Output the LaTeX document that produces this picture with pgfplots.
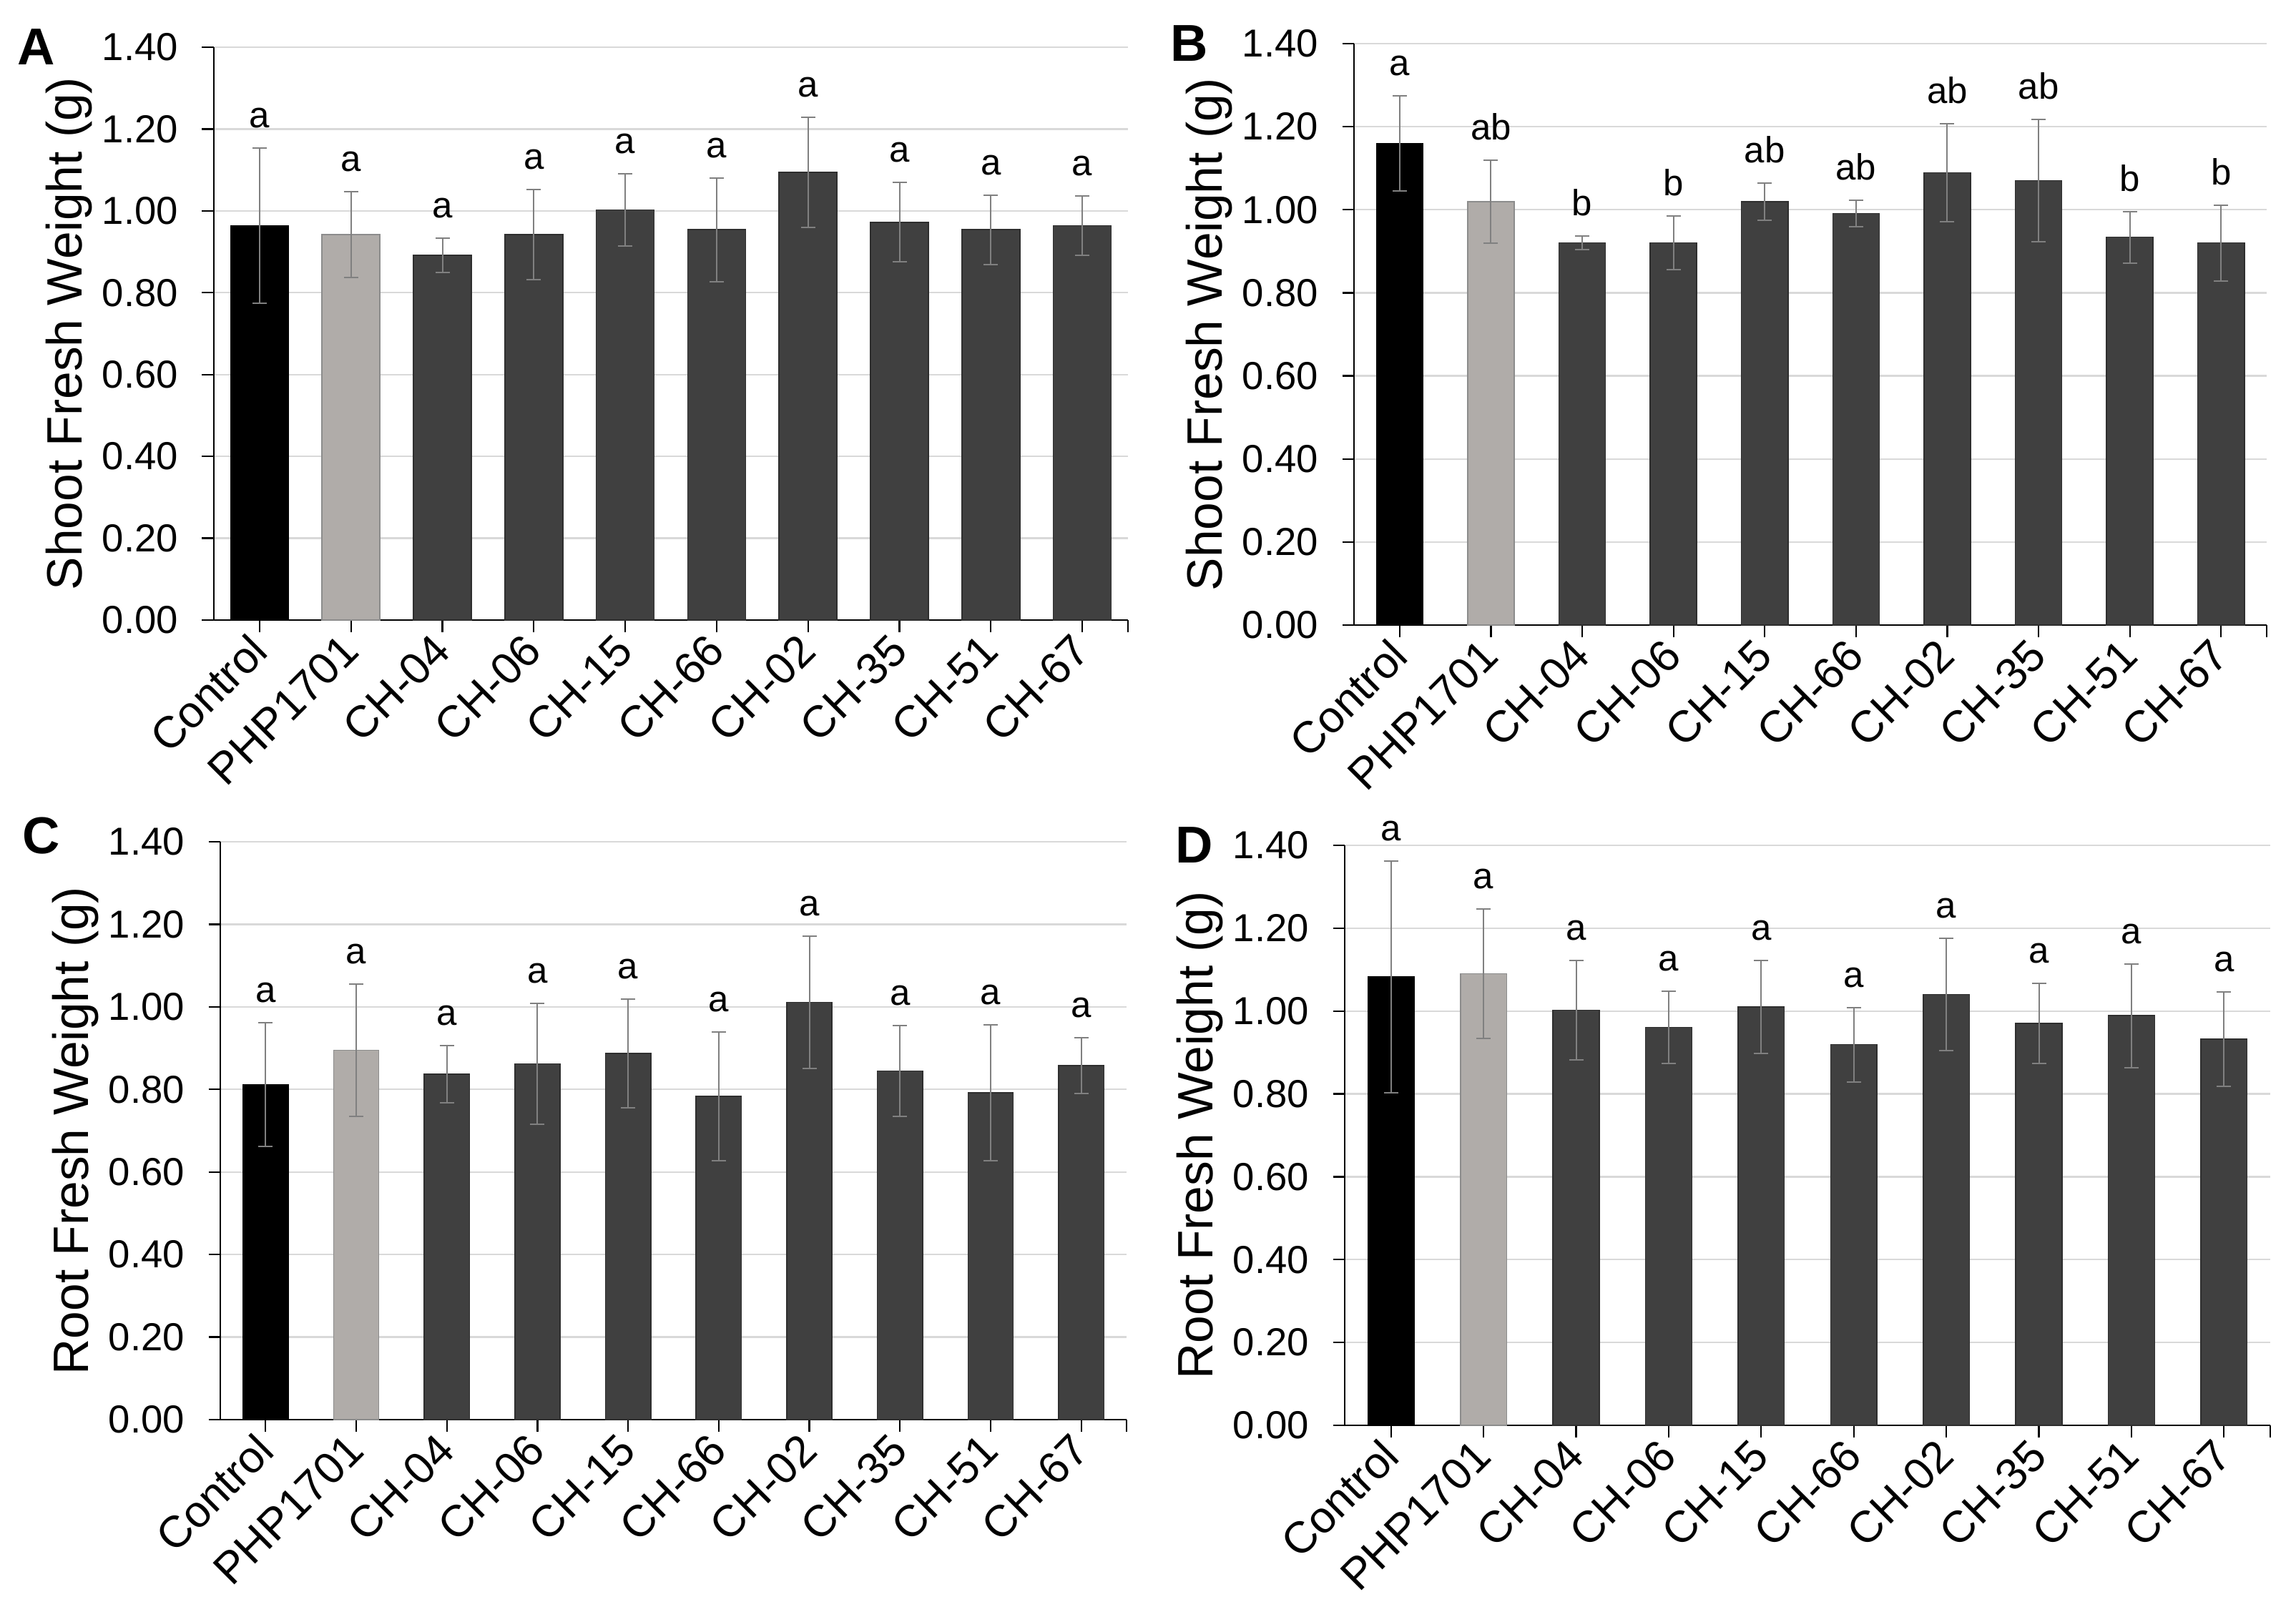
\documentclass[border=0pt]{standalone}
\usepackage{fontspec}
\setmainfont{Liberation Sans}
\usepackage{pgfplots}
\usepackage{pgfplotstable}
\pgfplotsset{compat=1.18}

\definecolor{php}{HTML}{B0ACA9}
\definecolor{phpedge}{HTML}{8C8C8C}
\definecolor{dark}{HTML}{404040}
\definecolor{darkedge}{HTML}{2E2E2E}
\definecolor{errc}{HTML}{808080}
\definecolor{gridc}{HTML}{D9D9D9}

% x y err lab  (mean, error, letter)
\pgfplotstableread{
x y err lab
0 0.964 0.190 a
1 0.942 0.105 a
2 0.891 0.042 a
3 0.942 0.110 a
4 1.002 0.088 a
5 0.954 0.127 a
6 1.094 0.135 a
7 0.972 0.097 a
8 0.954 0.085 a
9 0.964 0.072 a
}\dataA
\pgfplotstableread{
x y err lab
0 1.160 0.115 a
1 1.019 0.100 ab
2 0.920 0.016 b
3 0.920 0.065 b
4 1.019 0.045 ab
5 0.991 0.032 ab
6 1.089 0.118 ab
7 1.070 0.147 ab
8 0.934 0.062 b
9 0.920 0.091 b
}\dataB
\pgfplotstableread{
x y err lab
0 0.812 0.150 a
1 0.895 0.160 a
2 0.837 0.070 a
3 0.862 0.147 a
4 0.887 0.131 a
5 0.783 0.156 a
6 1.011 0.160 a
7 0.845 0.110 a
8 0.792 0.164 a
9 0.858 0.068 a
}\dataC
\pgfplotstableread{
x y err lab
0 1.082 0.280 a
1 1.090 0.156 a
2 1.002 0.120 a
3 0.961 0.087 a
4 1.010 0.112 a
5 0.919 0.090 a
6 1.040 0.135 a
7 0.970 0.097 a
8 0.989 0.125 a
9 0.932 0.114 a
}\dataD

\pgfplotsset{
  panel/.style={
    scale only axis,
    anchor=south west,
    clip=false,
    xmin=-0.5, xmax=9.5,
    ymin=0, ymax=1.4,
    ytick={0,0.2,0.4,0.6,0.8,1.0,1.2,1.4},
    xtick={0,1,2,3,4,5,6,7,8,9},
    xticklabels={Control,PHP1701,CH-04,CH-06,CH-15,CH-66,CH-02,CH-35,CH-51,CH-67},
    extra x ticks={9.5}, extra x tick labels={},
    axis x line*=bottom, axis y line*=left,
    axis line style={-, black, line width=0.45pt},
    tick style={black, line width=0.45pt},
    tick align=outside,
    major tick length=3.3pt,
    ymajorgrids,
    grid style={gridc, line width=0.45pt},
    scaled y ticks=false,
    yticklabel style={font=\fontsize{10.9}{12}\selectfont, xshift=-3.2pt,
      /pgf/number format/fixed, /pgf/number format/fixed zerofill,
      /pgf/number format/precision=2, /pgf/number format/assume math mode=true},
    xticklabel style={rotate=45, anchor=east, xshift=1.2pt, yshift=-2pt,
      font=\fontsize{12.4}{14}\selectfont},
    ylabel style={at={([xshift=-40.5pt]axis description cs:0,0.5)}, anchor=center,
      font=\fontsize{13.9}{15}\selectfont},
  },
  errs/.style={error bars/.cd, y dir=both, y explicit,
    error bar style={errc, line width=0.4pt},
    error mark options={errc, rotate=90, mark size=2pt, line width=0.4pt}},
}

\newcommand{\bars}[2]{%
  \addplot[ybar, bar shift=0pt, bar width=#2, fill=black, draw=black, line width=0.3pt,
    restrict x to domain=0:0, errs] table[x=x, y=y, y error=err]{#1};
  \addplot[ybar, bar shift=0pt, bar width=#2, fill=php, draw=phpedge, line width=0.3pt,
    restrict x to domain=1:1, errs] table[x=x, y=y, y error=err]{#1};
  \addplot[ybar, bar shift=0pt, bar width=#2, fill=dark, draw=darkedge, line width=0.3pt,
    restrict x to domain=2:9, errs] table[x=x, y=y, y error=err]{#1};
  \addplot[draw=none, mark=none, nodes near coords, point meta=explicit symbolic,
    every node near coord/.append style={inner sep=0pt, yshift=5.4pt,
      font=\fontsize{10.2}{11}\selectfont}]
    table[x=x, y expr=\thisrow{y}+\thisrow{err}, meta=lab]{#1};
}

\begin{document}
\begin{tikzpicture}
\path[use as bounding box] (0,0) rectangle (642pt,450.6pt);

\begin{axis}[panel, at={(59.8pt,277.2pt)}, width=255.6pt, height=160.2pt,
  ylabel={Shoot Fresh Weight (g)}]
  \bars{\dataA}{0.634}
  \node[font=\bfseries\fontsize{14.5}{16}\selectfont] at ([xshift=-49.6pt]axis description cs:0,1) {A};
\end{axis}

\begin{axis}[panel, at={(378.6pt,275.8pt)}, width=255.2pt, height=162.6pt,
  ylabel={Shoot Fresh Weight (g)}]
  \bars{\dataB}{0.51}
  \node[font=\bfseries\fontsize{14.5}{16}\selectfont] at ([xshift=-46pt]axis description cs:0,1) {B};
\end{axis}

\begin{axis}[panel, at={(61.6pt,53.6pt)}, width=253.4pt, height=161.6pt,
  ylabel={Root Fresh Weight (g)}]
  \bars{\dataC}{0.5}
  \node[font=\bfseries\fontsize{14.5}{16}\selectfont] at ([xshift=-50pt,yshift=1.6pt]axis description cs:0,1) {C};
\end{axis}

\begin{axis}[panel, at={(376pt,52pt)}, width=258.8pt, height=162.2pt,
  ylabel={Root Fresh Weight (g)}]
  \bars{\dataD}{0.5}
  \node[font=\bfseries\fontsize{14.5}{16}\selectfont] at ([xshift=-42pt]axis description cs:0,1) {D};
\end{axis}
\end{tikzpicture}
\end{document}
